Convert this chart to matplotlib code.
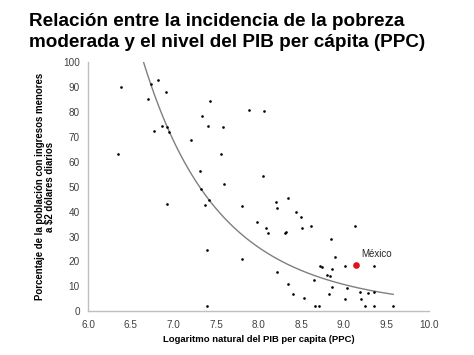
import matplotlib
matplotlib.use('Agg')
import matplotlib.pyplot as plt
import numpy as np

plt.rcParams['font.family'] = ['Liberation Sans', 'DejaVu Sans']

# ln del PIB per capita (PPC) y % de poblacion con menos de $2 diarios
pib_log = [6.38, 6.74, 6.82, 6.91, 6.70, 7.43, 7.89, 8.06, 7.34, 6.87,
           6.92, 6.95, 6.77, 7.41, 7.58, 7.21, 6.35, 7.56, 7.31, 8.05,
           7.59, 7.32, 8.35, 6.92, 7.37, 7.42, 7.80, 8.21, 8.22, 7.98,
           8.09, 8.11, 7.39, 7.80, 8.22, 7.40, 8.44, 8.50, 8.62, 8.51,
           8.31, 8.32, 9.13, 8.85, 8.90, 8.72, 8.74, 9.02, 8.86, 8.80,
           8.84, 8.65, 8.35, 8.86, 9.04, 8.40, 8.83, 9.19, 9.28, 9.35,
           8.53, 9.02, 9.20, 8.66, 8.71, 9.25, 9.35, 9.58, 9.35]
pobreza = [90.2, 91.3, 92.8, 88.1, 85.4, 84.3, 80.7, 80.2, 78.2, 74.4,
           74.0, 72.0, 72.3, 74.4, 73.8, 68.9, 63.3, 63.3, 56.4, 54.2,
           50.9, 49.1, 45.5, 43.0, 42.6, 44.7, 42.3, 44.0, 41.6, 35.9,
           33.6, 31.3, 24.5, 20.8, 15.8, 2.1, 40.0, 38.0, 34.1, 33.6,
           31.3, 31.7, 34.3, 28.9, 22.0, 18.0, 17.8, 18.2, 16.9, 14.7,
           14.2, 12.4, 11.0, 9.8, 9.4, 7.0, 6.8, 7.6, 7.5, 7.6,
           5.2, 4.9, 4.8, 2.1, 2.1, 2.1, 2.1, 2.1, 18.3]

mexico_x = 9.14
mexico_y = 18.7

# linea de tendencia potencial: y = y0 * (x / x0) ** b
trend_x0 = 6.65
trend_y0 = 100.0
trend_b = -7.36
trend_xmax = 9.58

xticks = [6.0, 6.5, 7.0, 7.5, 8.0, 8.5, 9.0, 9.5, 10.0]
yticks = [0, 10, 20, 30, 40, 50, 60, 70, 80, 90, 100]

fig = plt.figure(figsize=(4.74, 3.55), dpi=100)
ax = fig.add_axes([0.186, 0.123, 0.719, 0.702])

xt = np.linspace(trend_x0, trend_xmax, 200)
ax.plot(xt, trend_y0 * (xt / trend_x0) ** trend_b, color='#7f7f7f', lw=1.0, zorder=2)
ax.plot(pib_log, pobreza, 'o', color='black', ms=1.9, mew=0, zorder=3)
ax.plot(mexico_x, mexico_y, 'o', color='#e3101a', ms=4.8, mew=0, zorder=4)
ax.text(mexico_x + 0.07, mexico_y + 2.5, 'México', fontsize=7, color='#262626',
        ha='left', va='bottom')

ax.set_xlim(6, 10)
ax.set_ylim(0, 100)
ax.set_xticks(xticks)
ax.set_xticklabels(['{:.1f}'.format(v) for v in xticks])
ax.set_yticks(yticks)
ax.tick_params(length=0, labelsize=7.2, labelcolor='#404040', pad=6)

for s in ['top', 'right']:
    ax.spines[s].set_visible(False)
for s in ['left', 'bottom']:
    ax.spines[s].set_color('#bfbfbf')
    ax.spines[s].set_linewidth(1.0)

ax.set_xlabel('Logaritmo natural del PIB per capita (PPC)', fontsize=6.8,
              fontweight='bold', labelpad=4)
ax.set_ylabel('Porcentaje de la población con ingresos menores\na $2 dólares diarios',
              fontsize=6.9, fontweight='bold', labelpad=6, linespacing=1.0)

fig.text(0.062, 0.962, 'Relación entre la incidencia de la pobreza\nmoderada y el nivel del PIB per cápita (PPC)',
         fontsize=13.6, fontweight='bold', ha='left', va='top', linespacing=1.28)

fig.savefig('out.png', dpi=100)
